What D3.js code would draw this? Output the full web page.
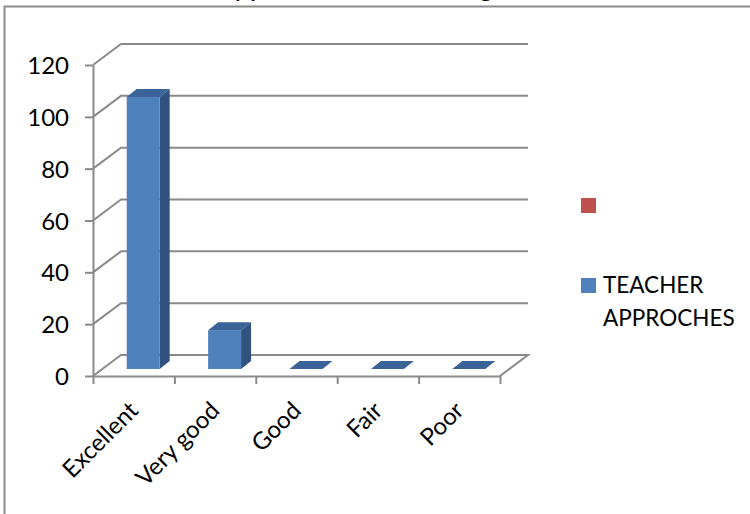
<!DOCTYPE html>
<html><head><meta charset="utf-8">
<script src="https://cdn.jsdelivr.net/npm/d3@7/dist/d3.min.js"></script>
<style>html,body{margin:0;padding:0;background:#fff}svg{display:block}text{font-family:Lato,"Open Sans",sans-serif;fill:#000}</style>
</head><body><svg id="c" width="750" height="514"></svg>
<script>
const categories = ["Excellent","Very good","Good","Fair","Poor"];
const values = [105,15,0,0,0];
const yTicks = [0,20,40,60,80,100,120];
const legendItems = [{color:"#c0504d",lines:[]},{color:"#4f81bd",lines:["TEACHER","APPROCHES"]}];
const titleText = "Teacher approaches in teaching";

const svg = d3.select("#c");
const x = d3.scaleBand().domain(categories).range([93,500]).paddingInner(0.595).paddingOuter(0.2975);
const y = d3.scaleLinear().domain([0,120]).range([376,65]);
const depth = {x:28,y:-21};
const barDepth = {x:10,y:-8};
const inset = {x:9.5,y:-7};
const grid = "#8a8a8a";

svg.append("text").attr("x",308).attr("y",-4).attr("text-anchor","middle").attr("font-size",27).text(titleText);
svg.append("path").attr("d","M750,6.5H4.5V514").attr("fill","none").attr("stroke",grid).attr("stroke-width",2);

// walls and floor
svg.append("g").selectAll("path").data(yTicks).join("path")
  .attr("d",d=>`M93,${y(d)}L${93+depth.x},${y(d)+depth.y}H${500+depth.x}`+(d===0?`L500,${y(0)}`:""))
  .attr("fill","none").attr("stroke",grid).attr("stroke-width",2);

// axes
const ya = d3.axisLeft(y).tickValues(yTicks).tickSize(8).tickPadding(16).tickSizeOuter(0);
const gy = svg.append("g").attr("transform","translate(93,0)").call(ya);
gy.selectAll("path,line").attr("stroke",grid).attr("stroke-width",2);
gy.selectAll("text").attr("font-size",24).attr("dy","0.36em").style("font-family","Lato");

const xa = d3.axisBottom(d3.scaleLinear().domain([0,5]).range([93,500])).tickValues([0,1,2,3,4,5]).tickSize(8).tickFormat("").tickSizeOuter(0);
const gx = svg.append("g").attr("transform",`translate(0,${y(0)})`).call(xa);
gx.selectAll("path,line").attr("stroke",grid).attr("stroke-width",2);

svg.append("g").selectAll("text").data(categories).join("text")
  .attr("transform",d=>`translate(${x(d)-inset.x+x.bandwidth()/2+15.5},${y(0)+36}) rotate(-45)`)
  .attr("text-anchor","end").attr("font-size",24).text(d=>d);

// bars
const bars = svg.append("g").selectAll("g").data(categories.map((c,i)=>({c,v:values[i]}))).join("g");
const bx = d=>x(d.c)+inset.x, bw = x.bandwidth(), base = y(0)+inset.y;
const topY = d=>y(d.v)+inset.y;
bars.append("path").attr("fill","#2f5280")
  .attr("d",d=>`M${bx(d)+bw},${topY(d)}L${bx(d)+bw+barDepth.x},${topY(d)+barDepth.y}V${base+barDepth.y}L${bx(d)+bw},${base}Z`);
bars.append("path").attr("fill","#3a6397")
  .attr("d",d=>`M${bx(d)},${topY(d)}L${bx(d)+barDepth.x},${topY(d)+barDepth.y}H${bx(d)+bw+barDepth.x}L${bx(d)+bw},${topY(d)}Z`);
bars.filter(d=>d.v>0).append("rect").attr("fill","#4f81bd")
  .attr("x",bx).attr("width",bw).attr("y",topY).attr("height",d=>base-topY(d));

// legend
const lg = svg.append("g").selectAll("g").data(legendItems).join("g")
  .attr("transform",(d,i)=>`translate(581,${198+i*80})`);
lg.append("rect").attr("width",15).attr("height",15).attr("fill",d=>d.color);
lg.each(function(d){
  d3.select(this).selectAll("text").data(d.lines).join("text")
    .attr("x",22).attr("y",(l,i)=>15+i*33).attr("font-size",22.5).text(l=>l);
});
</script></body></html>
